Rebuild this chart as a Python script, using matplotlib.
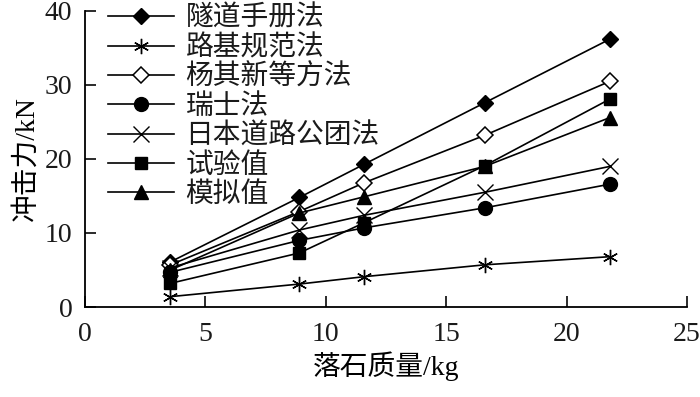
import matplotlib
matplotlib.use("Agg")
from matplotlib import pyplot as plt

plt.rcParams["font.family"] = ["Liberation Serif", "Noto Sans CJK SC"]
plt.rcParams["text.color"] = "#1a1a1a"

mass = [3.55, 8.9, 11.6, 16.6, 21.8]

tunnel_manual = [6.1, 14.8, 19.3, 27.6, 36.2]
roadbed_code = [1.4, 3.1, 4.1, 5.7, 6.8]
yang_qixin = [5.7, 12.9, 16.8, 23.2, 30.5]
swiss = [4.7, 9.0, 10.7, 13.4, 16.6]
japan_road = [5.3, 10.4, 12.4, 15.5, 19.0]
test_value = [3.2, 7.3, 11.4, 19.1, 28.1]
sim_value = [5.0, 12.7, 14.9, 19.0, 25.6]

series = [
    ("隧道手册法", tunnel_manual, dict(marker="D", mfc="black", ms=8.5)),
    ("路基规范法", roadbed_code, dict(marker=(6, 2, 0), mfc="black", ms=11, mew=1.0)),
    ("杨其新等方法", yang_qixin, dict(marker="D", mfc="white", ms=8.5, mew=1.1)),
    ("瑞士法", swiss, dict(marker="o", mfc="black", ms=10)),
    ("日本道路公团法", japan_road, dict(marker="x", mfc="black", ms=11, mew=1.0)),
    ("试验值", test_value, dict(marker="s", mfc="black", ms=8)),
    ("模拟值", sim_value, dict(marker="^", mfc="black", ms=10)),
]

fig = plt.figure(figsize=(7, 3.97), dpi=100)
ax = fig.add_axes([0.1214, 0.2267, 0.86, 0.7456])

for name, vals, style in series:
    ax.plot(mass, vals, color="black", lw=1.2, mec="black", label=name, **style)

ax.set_xlim(0, 25)
ax.set_ylim(0, 40)
ax.set_xticks([0, 5, 10, 15, 20, 25])
ax.set_yticks([0, 10, 20, 30, 40])
ax.spines["top"].set_visible(False)
ax.spines["right"].set_visible(False)
for s in ("left", "bottom"):
    ax.spines[s].set_linewidth(1.3)
ax.tick_params(direction="in", length=8, width=1.3, labelsize=20, colors="#1a1a1a")
ax.tick_params(axis="y", pad=9)
ax.tick_params(axis="x", pad=11)

ax.set_xlabel("落石质量/kg", fontsize=20, labelpad=3)
ax.set_ylabel("冲击力/kN", fontsize=20, labelpad=4)

ax.legend(loc="upper left", bbox_to_anchor=(0.01, 1.075), frameon=False, fontsize=20,
          handlelength=2.4, handletextpad=0.4, labelspacing=0.12, borderpad=0.1)

plt.savefig("out.png", dpi=100)
plt.close()
